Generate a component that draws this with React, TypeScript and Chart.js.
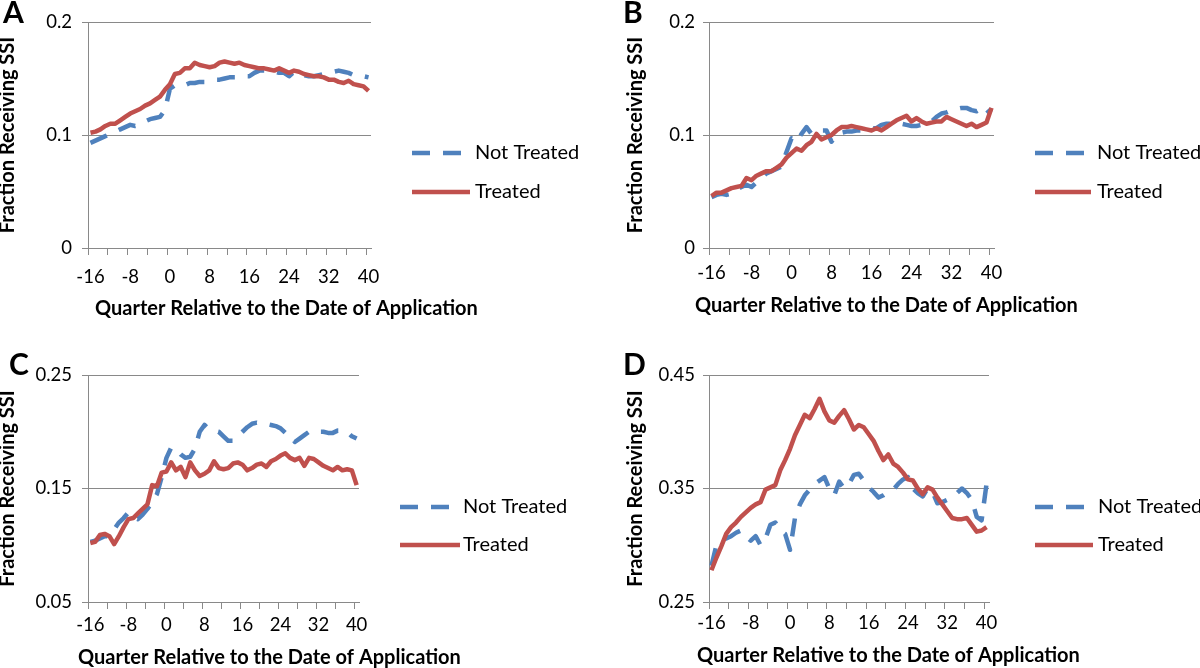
import React, { useEffect, useRef } from "react";
import { Chart, registerables } from "chart.js";

Chart.register(...registerables);

// ---------- data ----------
const quarters = [
  -16, -15, -14, -13, -12, -11, -10, -9, -8, -7, -6, -5, -4, -3, -2, -1, 0, 1, 2, 3,
  4, 5, 6, 7, 8, 9, 10, 11, 12, 13, 14, 15, 16, 17, 18, 19, 20, 21, 22, 23,
  24, 25, 26, 27, 28, 29, 30, 31, 32, 33, 34, 35, 36, 37, 38, 39, 40,
];

const notTreatedA = [
  0.093, 0.095, 0.097, 0.099, 0.101, 0.103, 0.105, 0.107, 0.109, 0.108,
  0.109, 0.112, 0.114, 0.115, 0.116, 0.122, 0.141, 0.144, 0.144, 0.144,
  0.146, 0.146, 0.147, 0.147, 0.148, 0.149, 0.149, 0.150, 0.151, 0.151,
  0.151, 0.152, 0.152, 0.155, 0.157, 0.157, 0.157, 0.156, 0.155, 0.155,
  0.152, 0.156, 0.154, 0.153, 0.152, 0.152, 0.153, 0.154, 0.155, 0.156,
  0.157, 0.156, 0.155, 0.153, 0.152, 0.152, 0.151,
];
const treatedA = [
  0.102, 0.103, 0.105, 0.108, 0.110, 0.110, 0.113, 0.116, 0.119, 0.121,
  0.123, 0.126, 0.128, 0.131, 0.134, 0.140, 0.145, 0.154, 0.155, 0.159,
  0.159, 0.164, 0.162, 0.161, 0.160, 0.161, 0.164, 0.165, 0.164, 0.163,
  0.164, 0.162, 0.161, 0.160, 0.159, 0.159, 0.158, 0.157, 0.159, 0.157,
  0.155, 0.157, 0.156, 0.154, 0.153, 0.152, 0.152, 0.151, 0.149, 0.149,
  0.147, 0.146, 0.148, 0.145, 0.144, 0.143, 0.139,
];

const notTreatedB = [
  0.045, 0.047, 0.048, 0.047, 0.048, 0.052, 0.054, 0.056, 0.054, 0.058,
  0.062, 0.066, 0.068, 0.070, 0.072, 0.085, 0.097, 0.094, 0.101, 0.107,
  0.101, 0.102, 0.104, 0.104, 0.094, 0.100, 0.102, 0.103, 0.103, 0.104,
  0.104, 0.105, 0.106, 0.106, 0.109, 0.110, 0.110, 0.111, 0.110, 0.109,
  0.108, 0.108, 0.109, 0.111, 0.112, 0.116, 0.119, 0.120, 0.122, 0.123,
  0.124, 0.124, 0.122, 0.121, 0.124, 0.119, 0.123,
];
const treatedB = [
  0.046, 0.049, 0.049, 0.051, 0.053, 0.054, 0.055, 0.062, 0.060, 0.064,
  0.066, 0.068, 0.068, 0.071, 0.074, 0.080, 0.084, 0.088, 0.086, 0.091,
  0.094, 0.101, 0.096, 0.098, 0.100, 0.104, 0.107, 0.107, 0.108, 0.107,
  0.106, 0.105, 0.104, 0.106, 0.104, 0.107, 0.110, 0.113, 0.115, 0.117,
  0.112, 0.115, 0.112, 0.110, 0.111, 0.112, 0.112, 0.116, 0.114, 0.112,
  0.110, 0.108, 0.110, 0.107, 0.109, 0.111, 0.124,
];

const notTreatedC = [
  0.103, 0.104, 0.106, 0.108, 0.108, 0.114, 0.120, 0.124, 0.129, 0.125,
  0.123, 0.127, 0.132, 0.138, 0.145, 0.160, 0.177, 0.186, 0.185, 0.180,
  0.177, 0.178, 0.185, 0.200, 0.206, 0.202, 0.201, 0.200, 0.196, 0.192,
  0.192, 0.196, 0.200, 0.204, 0.207, 0.208, 0.207, 0.207, 0.206, 0.205,
  0.203, 0.199, 0.198, 0.191, 0.194, 0.197, 0.200, 0.201, 0.200, 0.200,
  0.199, 0.199, 0.201, 0.201, 0.200, 0.196, 0.194,
];
const treatedC = [
  0.102, 0.103, 0.109, 0.110, 0.108, 0.101, 0.108, 0.116, 0.123, 0.124,
  0.128, 0.132, 0.136, 0.153, 0.152, 0.164, 0.165, 0.173, 0.166, 0.169,
  0.160, 0.173, 0.166, 0.161, 0.163, 0.166, 0.174, 0.168, 0.167, 0.168,
  0.172, 0.173, 0.171, 0.166, 0.168, 0.171, 0.172, 0.169, 0.174, 0.176,
  0.179, 0.181, 0.177, 0.175, 0.177, 0.170, 0.177, 0.176, 0.173, 0.170,
  0.168, 0.166, 0.169, 0.166, 0.167, 0.166, 0.153,
];

const notTreatedD = [
  0.282, 0.300, 0.304, 0.306, 0.308, 0.311, 0.313, 0.308, 0.304, 0.308,
  0.300, 0.306, 0.318, 0.320, 0.313, 0.310, 0.296, 0.324, 0.336, 0.344,
  0.349, 0.354, 0.357, 0.360, 0.350, 0.344, 0.356, 0.350, 0.354, 0.362,
  0.363, 0.357, 0.351, 0.347, 0.342, 0.344, 0.347, 0.349, 0.354, 0.358,
  0.360, 0.350, 0.346, 0.343, 0.350, 0.347, 0.337, 0.338, 0.340, 0.343,
  0.346, 0.350, 0.346, 0.340, 0.325, 0.322, 0.354,
];
const treatedD = [
  0.278, 0.289, 0.299, 0.310, 0.316, 0.320, 0.325, 0.329, 0.333, 0.336,
  0.338, 0.349, 0.351, 0.353, 0.366, 0.375, 0.385, 0.397, 0.406, 0.415,
  0.412, 0.420, 0.429, 0.418, 0.410, 0.408, 0.414, 0.419, 0.411, 0.402,
  0.406, 0.404, 0.398, 0.392, 0.383, 0.375, 0.380, 0.372, 0.369, 0.364,
  0.358, 0.357, 0.350, 0.345, 0.351, 0.349, 0.342, 0.336, 0.330, 0.324,
  0.323, 0.323, 0.324, 0.318, 0.312, 0.313, 0.316,
];

const yTicksAB = [0, 0.1, 0.2];
const yTickLabelsAB = ["0", "0.1", "0.2"];
const yTicksC = [0.05, 0.15, 0.25];
const yTickLabelsC = ["0.05", "0.15", "0.25"];
const yTicksD = [0.25, 0.35, 0.45];
const yTickLabelsD = ["0.25", "0.35", "0.45"];

const seriesLabels = ["Not Treated", "Treated"];
const xTitle = "Quarter Relative to the Date of Application";
const yTitle = "Fraction Receiving SSI";

// ---------- style ----------
const BLUE = "#4F81BD";
const RED = "#C0504D";
const GRID = "#898989";
const FONT = "Lato";
const W = 600;
const H = 334;

type PanelCfg = {
  letter: string;
  left: number;
  top: number;
  nt: number[];
  tr: number[];
  yTicks: number[];
  yLabels: string[];
  area: { l: number; r: number; t: number; b: number };
  yTitleX: number;
  yTickPad: number;
  xLabelOffset: number;
  letterX: number;
  letterY: number;
  xTitleX: number;
  xTitleY: number;
  legX1: number;
  legX2: number;
  legTX: number;
  legY: number[];
};

const panels: PanelCfg[] = [
  {
    letter: "A", left: 0, top: 0, nt: notTreatedA, tr: treatedA,
    yTicks: yTicksAB, yLabels: yTickLabelsAB,
    area: { l: 88, r: 371, t: 22, b: 248 },
    yTitleX: 8, yTickPad: 10, xLabelOffset: 29,
    letterX: 3, letterY: 23, xTitleX: 95, xTitleY: 315,
    legX1: 412, legX2: 470, legTX: 475, legY: [153, 192],
  },
  {
    letter: "B", left: 600, top: 0, nt: notTreatedB, tr: treatedB,
    yTicks: yTicksAB, yLabels: yTickLabelsAB,
    area: { l: 109, r: 394, t: 22, b: 248 },
    yTitleX: 36, yTickPad: 8, xLabelOffset: 25.5,
    letterX: 23, letterY: 23, xTitleX: 95, xTitleY: 312,
    legX1: 435, legX2: 491, legTX: 497, legY: [153, 192],
  },
  {
    letter: "C", left: 0, top: 334, nt: notTreatedC, tr: treatedC,
    yTicks: yTicksC, yLabels: yTickLabelsC,
    area: { l: 88, r: 359, t: 41, b: 268 },
    yTitleX: 8, yTickPad: 10, xLabelOffset: 23,
    letterX: 9, letterY: 41, xTitleX: 78, xTitleY: 330,
    legX1: 400, legX2: 460, legTX: 463, legY: [173, 211],
  },
  {
    letter: "D", left: 600, top: 334, nt: notTreatedD, tr: treatedD,
    yTicks: yTicksD, yLabels: yTickLabelsD,
    area: { l: 109, r: 389, t: 41, b: 268 },
    yTitleX: 36, yTickPad: 8, xLabelOffset: 21.5,
    letterX: 23, letterY: 41, xTitleX: 97, xTitleY: 327.5,
    legX1: 435, legX2: 493, legTX: 498, legY: [173, 211],
  },
];

const decorPlugin = {
  id: "decor",
  afterDraw(chart: any, _args: any, opts: any) {
    const ctx = chart.ctx as CanvasRenderingContext2D;
    ctx.save();
    ctx.fillStyle = "#000";
    ctx.textAlign = "left";
    ctx.textBaseline = "alphabetic";
    ctx.font = `bold 30px ${FONT}`;
    ctx.fillText(opts.letter, opts.letterX, opts.letterY);
    ctx.font = `bold 20px ${FONT}`;
    ctx.fillText(xTitle, opts.xTitleX, opts.xTitleY);
    chart.data.datasets.forEach((ds: any, i: number) => {
      const y = opts.legY[i];
      ctx.save();
      ctx.strokeStyle = ds.borderColor;
      ctx.lineWidth = ds.borderWidth;
      ctx.lineCap = "butt";
      ctx.setLineDash(ds.borderDash || []);
      ctx.beginPath();
      ctx.moveTo(opts.legX1, y);
      ctx.lineTo(opts.legX2, y);
      ctx.stroke();
      ctx.restore();
      ctx.font = `20px ${FONT}`;
      ctx.textBaseline = "middle";
      ctx.fillStyle = "#000";
      ctx.fillText(ds.label, opts.legTX, y);
    });
    ctx.restore();
  },
};

function Panel({ p }: { p: PanelCfg }) {
  const ref = useRef<HTMLCanvasElement>(null);
  useEffect(() => {
    const canvas = ref.current!;
    const tickFont = { family: FONT, size: 18.5, weight: "normal" as const };
    const chart = new Chart(canvas, {
      type: "line",
      data: {
        labels: quarters.map(String),
        datasets: [
          {
            label: seriesLabels[0],
            data: p.nt,
            borderColor: BLUE,
            backgroundColor: BLUE,
            borderWidth: 4.5,
            borderDash: [18, 13],
            borderCapStyle: "butt",
            borderJoinStyle: "round",
            pointRadius: 0,
            tension: 0,
            order: 1,
          },
          {
            label: seriesLabels[1],
            data: p.tr,
            borderColor: RED,
            backgroundColor: RED,
            borderWidth: 4.5,
            borderCapStyle: "butt",
            borderJoinStyle: "round",
            pointRadius: 0,
            tension: 0,
            order: 0,
          },
        ],
      },
      options: {
        responsive: false,
        animation: false,
        devicePixelRatio: 1,
        events: [],
        layout: { padding: { left: 0, top: p.area.t, right: W - p.area.r, bottom: 0 } },
        plugins: {
          legend: { display: false },
          tooltip: { enabled: false },
          decor: {
            letter: p.letter, letterX: p.letterX, letterY: p.letterY,
            xTitleX: p.xTitleX, xTitleY: p.xTitleY,
            legX1: p.legX1, legX2: p.legX2, legTX: p.legTX, legY: p.legY,
          },
        } as any,
        scales: {
          x: {
            type: "category",
            offset: true,
            grid: {
              offset: true,
              drawOnChartArea: false,
              drawTicks: true,
              tickLength: 7,
              lineWidth: 1,
              color: (c: any) => (c.index % 4 === 0 ? GRID : "rgba(0,0,0,0)"),
            },
            border: { display: true, color: GRID, width: 1 },
            ticks: {
              autoSkip: false,
              maxRotation: 0,
              minRotation: 0,
              color: "#000",
              font: tickFont,
              padding: p.xLabelOffset - 7 - 11.1,
              callback: (_v: any, i: number) => {
                const q = quarters[i];
                return q % 8 === 0 ? String(q) : "";
              },
            },
            afterFit: (s: any) => {
              s.height = H - p.area.b;
            },
          },
          y: {
            type: "linear",
            min: p.yTicks[0],
            max: p.yTicks[p.yTicks.length - 1],
            grid: { color: GRID, lineWidth: 1, tickLength: 6, drawTicks: true },
            border: { display: true, color: GRID, width: 1 },
            ticks: {
              color: "#000",
              font: tickFont,
              padding: p.yTickPad,
              callback: (_v: any, i: number) => p.yLabels[i],
            },
            afterBuildTicks: (s: any) => {
              s.ticks = p.yTicks.map((v) => ({ value: v }));
            },
            title: {
              display: true,
              text: yTitle,
              color: "#000",
              font: { family: FONT, size: 20, weight: "bold", lineHeight: 1 },
              padding: { top: p.yTitleX - 10, bottom: 0 },
            },
            afterFit: (s: any) => {
              s.width = p.area.l;
            },
          },
        },
      },
      plugins: [decorPlugin as any],
    });
    return () => chart.destroy();
  }, [p]);
  return (
    <div style={{ position: "absolute", left: p.left, top: p.top, width: W, height: H }}>
      <canvas ref={ref} width={W} height={H} style={{ display: "block", width: W, height: H }} />
    </div>
  );
}

export default function App() {
  return (
    <div style={{ position: "fixed", left: 0, top: 0, width: 1200, height: 668, background: "#fff", overflow: "hidden" }}>
      {panels.map((p) => (
        <Panel key={p.letter} p={p} />
      ))}
    </div>
  );
}
